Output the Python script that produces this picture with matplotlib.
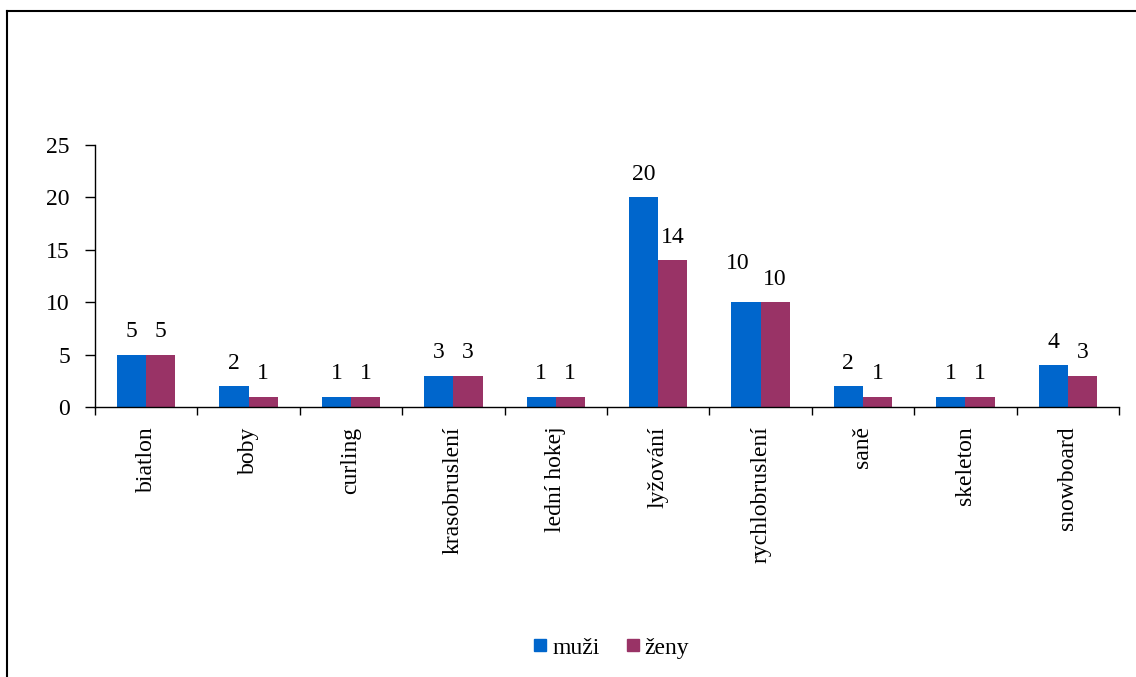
import numpy as np
import matplotlib
matplotlib.use("Agg")
import matplotlib.pyplot as plt
from matplotlib.lines import Line2D

# ---- data ------------------------------------------------------------------
sports = ['biatlon', 'boby', 'curling', 'krasobruslení', 'lední hokej',
          'lyžování', 'rychlobruslení', 'saně', 'skeleton', 'snowboard']
muzi = [5, 2, 1, 3, 1, 20, 10, 2, 1, 4]
zeny = [5, 1, 1, 3, 1, 14, 10, 1, 1, 3]
series_names = ['muži', 'ženy']
yticks = [0, 5, 10, 15, 20, 25]

c_muzi = '#0066CC'
c_zeny = '#993366'

plt.rcParams['font.family'] = ['Liberation Serif', 'DejaVu Serif']
fs = 17

fig = plt.figure(figsize=(11.36, 6.77), dpi=100)
ax = fig.add_axes([0.0836, 0.3988, 0.9014, 0.387])

x = np.arange(len(sports))
w = 0.285
b1 = ax.bar(x - w/2, muzi, w, color=c_muzi, label=series_names[0])
b2 = ax.bar(x + w/2, zeny, w, color=c_zeny, label=series_names[1])

# value labels; two-digit labels of equal height would collide, so the left one
# is lifted and nudged left (as the original chart does)
for i, (r1, r2) in enumerate(zip(b1, b2)):
    clash = muzi[i] == zeny[i] and muzi[i] >= 10
    for r, dx, dy in ((r1, -6 if clash else 0, 20 if clash else 9), (r2, 0, 9)):
        ax.annotate('%d' % r.get_height(), (r.get_x() + r.get_width()/2, r.get_height()),
                    xytext=(dx, dy), textcoords='offset points',
                    ha='center', va='bottom', fontsize=fs)

ax.set_xlim(-0.5, len(sports) - 0.5)
ax.set_ylim(0, 25)
ax.set_yticks(yticks)
ax.set_xticks(np.arange(len(sports) + 1) - 0.5, minor=False)
ax.set_xticklabels([])
ax.set_xticks(x, minor=True)
ax.set_xticklabels(sports, minor=True, rotation=90, fontsize=fs)
ax.tick_params(axis='x', which='minor', length=0, pad=14)
ax.tick_params(axis='x', which='major', length=6, direction='out', width=1)
ax.tick_params(axis='y', length=7, direction='out', labelsize=fs, pad=11, width=1)

for s in ('top', 'right'):
    ax.spines[s].set_visible(False)
ax.spines['left'].set_linewidth(1)
ax.spines['bottom'].set_linewidth(1)

handles = [Line2D([], [], marker='s', linestyle='', markersize=8.5,
                  markerfacecolor=c, markeredgecolor=c) for c in (c_muzi, c_zeny)]
fig.legend(handles, series_names, loc='center', bbox_to_anchor=(0.537, 0.043),
           ncol=2, frameon=False, fontsize=fs, handletextpad=0.1,
           columnspacing=1.0, handlelength=0.8)

# outer frame lines (top and left visible in the reference)
fig.add_artist(Line2D([0.0062, 1.0], [1 - 10.5/677, 1 - 10.5/677], color='black',
                      lw=1.5, transform=fig.transFigure))
fig.add_artist(Line2D([0.0062, 0.0062], [0, 1 - 10.5/677], color='black',
                      lw=1.5, transform=fig.transFigure))

fig.savefig('out.png', dpi=100)
